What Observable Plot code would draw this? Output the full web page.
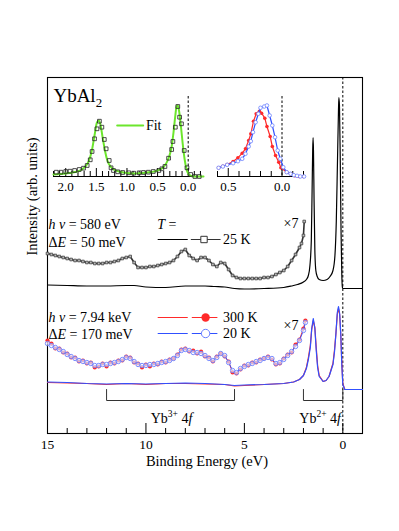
<!DOCTYPE html>
<html><head><meta charset="utf-8">
<script src="https://cdn.jsdelivr.net/npm/d3@7"></script>
<script src="https://cdn.jsdelivr.net/npm/@observablehq/plot@0.6"></script>
<style>
body{margin:0;background:#fff;}
#wrap{position:relative;width:399px;height:531px;}
#wrap svg{position:absolute;overflow:visible;}
#wrap svg text{font-family:"Liberation Serif","Times New Roman",serif;}
</style></head><body><div id="wrap"></div>
<script>
// ---------- DATA (binding energy in eV, intensity in arb. units) ----------
// top panel, hv = 580 eV, T = 25 K : raw spectrum (offset)
const soft25K = [[15,148.5],[14,148],[13,147.5],[12,147.5],[11,148],[10.6,148],[10,146.5],[9,146],[8,147.5],[7,147.5],[6.5,147],[6,146.5],[5.5,145],[5,144.5],[4,145],[3,146],[2.6,147.5],[2.3,149],[2.0,151.5],[1.85,154],[1.75,158],[1.67,168],[1.6,193],[1.56,243],[1.53,283],[1.51,296],[1.49,283],[1.46,233],[1.42,183],[1.37,163],[1.3,157],[1.2,154],[1.0,153],[0.8,154],[0.65,157],[0.5,163],[0.4,178],[0.33,213],[0.27,273],[0.22,323],[0.2,336],[0.17,328],[0.13,273],[0.09,203],[0.05,158],[0.02,146],[0,145],[-1,145]];
// top panel x7 magnified
const soft25Kx7 = [[15.0,180],[14.8,179],[14.6,178],[14.4,177],[14.2,176],[14.0,175],[13.8,174],[13.6,173],[13.4,173],[13.2,172],[13.0,171],[12.8,171],[12.6,170],[12.4,170],[12.2,170],[12.0,171],[11.8,171],[11.6,172],[11.4,173],[11.2,175],[11.0,176],[10.8,177],[10.6,171],[10.4,166],[10.2,166],[10.0,166],[9.8,167],[9.6,167],[9.4,168],[9.2,169],[9.0,170],[8.8,171],[8.6,173],[8.4,177],[8.2,182],[8.0,184],[7.8,178],[7.6,175],[7.4,173],[7.2,176],[7.0,176],[6.8,173],[6.6,169],[6.4,167],[6.2,171],[6.0,170],[5.8,164],[5.6,158],[5.4,156],[5.2,155],[5.0,155],[4.8,155],[4.6,155],[4.4,155],[4.2,155],[4.0,156],[3.8,156],[3.6,157],[3.4,159],[3.2,161],[3.0,163],[2.8,167],[2.6,173],[2.4,179],[2.2,186],[2.1,190],[2.0,198],[1.96,212]];
// bottom panel, hv = 7.94 keV
const hard300K = [[15,51],[14,50.5],[13,50],[12,49],[11,50],[10,49],[9,50],[8,50],[7,49.5],[6,49],[5.5,47.5],[5,48],[4,49],[3,50],[2.5,51.5],[2.2,54],[2.0,58],[1.85,66],[1.75,76],[1.65,88],[1.58,104],[1.5,113],[1.42,106],[1.35,86],[1.28,68],[1.2,58],[1.0,52],[0.85,53],[0.7,57],[0.55,67],[0.5,70],[0.42,84],[0.35,100],[0.28,119],[0.22,125],[0.16,119],[0.1,97],[0.05,70],[0,50],[-0.1,44],[-1,44]];
const hard20K = [[15,51.5],[14,51],[13,50],[12,49.5],[11,50],[10,49.5],[9,50],[8,50.5],[7,50],[6,49],[5.5,48],[5,48.5],[4,49],[3,50],[2.5,51.5],[2.2,54],[2.0,58],[1.85,65],[1.75,74],[1.65,86],[1.58,105],[1.5,115],[1.42,105],[1.35,83],[1.28,66],[1.2,57],[1.0,52],[0.85,53],[0.7,57],[0.55,66],[0.5,69],[0.42,82],[0.35,100],[0.28,121],[0.22,127],[0.16,120],[0.1,98],[0.05,68],[0,49],[-0.1,44],[-1,44]];
const hard300Kx7 = [[15.0,93],[14.8,90],[14.6,85],[14.4,85],[14.2,81],[14.0,80],[13.8,76],[13.6,76],[13.4,72],[13.2,73],[13.0,70],[12.8,71],[12.6,66],[12.4,67],[12.2,70],[12.0,67],[11.8,71],[11.6,70],[11.4,73],[11.2,73],[11.0,77],[10.8,76],[10.6,71],[10.4,70],[10.2,66],[10.0,69],[9.8,67],[9.6,70],[9.4,69],[9.2,72],[9.0,71],[8.8,74],[8.6,75],[8.4,79],[8.2,84],[8.0,85],[7.8,82],[7.6,83],[7.4,80],[7.2,82],[7.0,77],[6.8,76],[6.6,72],[6.4,77],[6.2,80],[6.0,77],[5.8,72],[5.6,61],[5.4,60],[5.2,64],[5.0,68],[4.8,68],[4.6,71],[4.4,71],[4.2,74],[4.0,75],[3.8,77],[3.6,74],[3.4,69],[3.2,70],[3.0,75],[2.8,79],[2.6,81],[2.4,89],[2.2,94],[2.0,105],[1.9,113]];
const hard20Kx7 = [[15.0,90],[14.8,88],[14.6,86],[14.4,84],[14.2,82],[14.0,79],[13.8,77],[13.6,75],[13.4,73],[13.2,72],[13.0,71],[12.8,70],[12.6,68],[12.4,68],[12.2,69],[12.0,69],[11.8,70],[11.6,71],[11.4,72],[11.2,74],[11.0,76],[10.8,75],[10.6,72],[10.4,69],[10.2,68],[10.0,68],[9.8,69],[9.6,69],[9.4,70],[9.2,71],[9.0,72],[8.8,73],[8.6,75],[8.4,78],[8.2,83],[8.0,84],[7.8,83],[7.6,81],[7.4,81],[7.2,80],[7.0,78],[6.8,75],[6.6,73],[6.4,76],[6.2,80],[6.0,78],[5.8,71],[5.6,63],[5.4,61],[5.2,65],[5.0,67],[4.8,69],[4.6,70],[4.4,72],[4.2,73],[4.0,75],[3.8,76],[3.6,75],[3.4,70],[3.2,71],[3.0,74],[2.8,78],[2.6,82],[2.4,87],[2.2,93],[2.0,103],[1.9,111]];
// left inset: 580 eV data and fit near E_F
const insetSoftData = [[2.155,4.3],[2.08,4.3],[2.0,5],[1.93,5.3],[1.855,6],[1.78,7],[1.71,8.3],[1.65,11],[1.6,16.7],[1.57,25],[1.53,37.7],[1.49,47.7],[1.45,55.3],[1.41,49.3],[1.37,37],[1.34,27.7],[1.29,16],[1.26,8.7],[1.22,6],[1.15,4.7],[1.07,4],[0.97,3.7],[0.89,3.3],[0.80,3.7],[0.73,4],[0.65,4.3],[0.57,5],[0.48,6],[0.43,7.7],[0.38,10],[0.32,18.3],[0.27,27],[0.25,35],[0.21,49.3],[0.17,70],[0.14,59.3],[0.11,52.7],[0.065,26],[0.02,8.7],[-0.04,2],[-0.11,0],[-0.18,0]];
const insetSoftFit = [[2.2,2],[2.0,3],[1.85,4.5],[1.75,6.5],[1.68,10],[1.62,16],[1.57,27],[1.53,41],[1.49,54],[1.46,56],[1.43,51],[1.4,40],[1.36,26],[1.32,16],[1.27,10],[1.2,6.5],[1.1,4.5],[1.0,3.5],[0.9,3],[0.8,3.2],[0.7,3.7],[0.6,4.5],[0.5,6],[0.42,8.5],[0.36,13],[0.31,20],[0.27,30],[0.24,44],[0.21,61],[0.19,70],[0.17,71],[0.15,66],[0.12,51],[0.09,33],[0.06,18],[0.03,8],[0.0,3],[-0.05,0.5],[-0.1,0],[-0.25,0]];
// right inset: 7.94 keV near E_F
const insetHard20K = [[0.59,8.7],[0.55,10],[0.51,11.7],[0.455,13.3],[0.41,15.3],[0.37,17.7],[0.34,22.7],[0.31,30],[0.29,35.3],[0.27,44.3],[0.245,54.3],[0.22,62.7],[0.2,68.7],[0.165,70],[0.14,71],[0.115,61],[0.09,51],[0.065,39.3],[0.04,26],[0.016,17.7],[-0.012,9.3],[-0.044,4.3],[-0.08,2.7],[-0.11,1.3],[-0.14,0.7],[-0.17,0],[-0.205,0]];
const insetHard300K = [[0.59,8.7],[0.55,10.3],[0.51,12],[0.455,15],[0.41,18.7],[0.37,23.3],[0.34,27.7],[0.31,36],[0.29,42.7],[0.265,55.3],[0.24,62.7],[0.21,65.3],[0.19,63.3],[0.16,58.3],[0.14,50],[0.11,40],[0.09,30],[0.06,21],[0.03,14.3],[0.01,8.7],[-0.044,4.3],[-0.08,2.7],[-0.12,0.7],[-0.16,0],[-0.2,0]];
// tick labels and annotations
const mainTickLabels = [15, 10, 5, 0];
const leftInsetTickLabels = [2.0, 1.5, 1.0, 0.5, 0.0];
const rightInsetTickLabels = [0.5, 0.0];
const bracketRanges = [[12, 5.5], [2.0, 0]];
const bracketLabels = ["Yb^3+^ 4*f*", "Yb^2+^ 4*f*"];
const seriesLabels = ["25 K", "300 K", "20 K"];

// ---------- STYLE ----------
const FONT = '"Liberation Serif","Times New Roman",serif';
const RED = "#ff2a2a", BLUE = "#3050ff", BLUEPT = "#6a80ff", GREEN = "#6ce62c";
const X = d => d[0], Y = d => d[1];

const wrap = document.getElementById("wrap");
function place(svg, left, top) {
  svg.style.left = left + "px"; svg.style.top = top + "px";
  svg.style.background = "transparent";
  wrap.appendChild(svg);
  rich(svg);
}
function rich(svg) {
  svg.querySelectorAll("text").forEach(t => {
    const leaves = t.querySelectorAll("tspan").length ? [...t.querySelectorAll("tspan")] : [t];
    leaves.forEach(n => {
      const s = n.textContent;
      if (!/[*^_]/.test(s)) return;
      const fs = parseFloat(getComputedStyle(n).fontSize) || 13;
      n.textContent = "";
      let shift = 0;
      s.split(/(\*[^*]+\*|\^[^^]+\^|_[^_]+_)/).forEach(part => {
        if (!part) return;
        const sp = document.createElementNS("http://www.w3.org/2000/svg", "tspan");
        let txt = part, dy = 0;
        if (part[0] === "*") { txt = part.slice(1, -1); sp.setAttribute("font-style", "italic"); }
        else if (part[0] === "^") { txt = part.slice(1, -1); sp.setAttribute("font-size", fs * 0.68); dy = -0.42 * fs; }
        else if (part[0] === "_") { txt = part.slice(1, -1); sp.setAttribute("font-size", fs * 0.68); dy = 0.3 * fs; }
        const d = dy - shift; if (d) sp.setAttribute("dy", d); shift = dy;
        sp.textContent = txt; n.appendChild(sp);
      });
    });
  });
}

// ---------- MAIN PLOT ----------
const minorMain = d3.range(-1, 16).filter(v => v % 5 !== 0);
const majorMain = [15, 10, 5, 0];
const legLow = 33, legHigh = 44;
const bracketPts = bracketRanges.flatMap((r, i) => [[r[0], legHigh, i], [r[0], legLow, i], [r[1], legLow, i], [r[1], legHigh, i]]);

const main = Plot.plot({
  width: 399, height: 531,
  marginTop: 77, marginRight: 37, marginBottom: 98, marginLeft: 47,
  x: {domain: [15, -1], axis: null},
  y: {domain: [0, 356], axis: null},
  style: {fontFamily: FONT, fontSize: "13.5px", background: "transparent", color: "black"},
  marks: [
    Plot.frame({stroke: "black", strokeWidth: 1.1}),
    Plot.ruleX([0], {stroke: "black", strokeDasharray: "2.5,2", strokeWidth: 1}),
    Plot.tickX(minorMain, {x: d => d, insetTop: 351, stroke: "black"}),
    Plot.tickX(majorMain, {x: d => d, insetTop: 346, stroke: "black"}),
    Plot.axisX(mainTickLabels, {tickSize: 0, tickPadding: 6, label: null, fontSize: 13.5, tickFormat: d3.format("d")}),
    // brackets
    Plot.line(bracketPts, {x: X, y: Y, z: d => d[2], stroke: "#333", strokeWidth: 1}),
    Plot.text(bracketLabels, {x: [8.7, 1.15], y: [15, 15], text: d => d, fontSize: 14, lineAnchor: "middle"}),
    // bottom panel (7.94 keV)
    Plot.line(hard300K, {x: X, y: Y, stroke: RED, strokeWidth: 1.2}),
    Plot.line(hard20K, {x: X, y: Y, stroke: BLUE, strokeWidth: 1.2}),
    Plot.line(hard300Kx7, {x: X, y: Y, stroke: RED, strokeWidth: 1}),
    Plot.dot(hard300Kx7, {x: X, y: Y, r: 2.1, fill: RED, stroke: "none"}),
    Plot.line(hard20Kx7, {x: X, y: Y, stroke: BLUE, strokeWidth: 0.9}),
    Plot.dot(hard20Kx7, {x: X, y: Y, r: 2.2, fill: "white", fillOpacity: 0.6, stroke: BLUEPT, strokeWidth: 0.9}),
    // top panel (580 eV)
    Plot.line(soft25K, {x: X, y: Y, stroke: "black", strokeWidth: 1.2, curve: "monotone-x"}),
    Plot.line(soft25Kx7, {x: X, y: Y, stroke: "#333", strokeWidth: 1.6}),
    Plot.dot(soft25Kx7, {x: X, y: Y, symbol: "square", r: 1.5, fill: "#bbb", stroke: "#444", strokeWidth: 0.8}),
    // title
    Plot.text(["YbAl_2_"], {x: 14.7, y: 338, text: d => d, fontSize: 19, textAnchor: "start", lineAnchor: "middle"}),
    // top legend
    Plot.text(["*h ν* = 580 eV", "Δ*E* = 50 meV"], {x: 14.95, y: [209, 191], text: d => d, fontSize: 14, textAnchor: "start", lineAnchor: "middle"}),
    Plot.text(["*T* ="], {x: 9.43, y: 209, text: d => d, fontSize: 14, textAnchor: "start", lineAnchor: "middle"}),
    Plot.line([[9.38, 194], [7.9, 194]], {x: X, y: Y, stroke: "black", strokeWidth: 1.2}),
    Plot.line([[7.7, 194], [6.23, 194]], {x: X, y: Y, stroke: "#333", strokeWidth: 1}),
    Plot.dot([[7.05, 194]], {x: X, y: Y, symbol: "square", r: 3.6, fill: "white", stroke: "#333", strokeWidth: 1}),
    Plot.text([seriesLabels[0]], {x: 6.08, y: 194, text: d => d, fontSize: 14, textAnchor: "start", lineAnchor: "middle"}),
    Plot.text(["×7"], {x: 2.25, y: 210, text: d => d, fontSize: 14, textAnchor: "end", lineAnchor: "middle"}),
    // bottom legend
    Plot.text(["*h ν* = 7.94 keV", "Δ*E* = 170 meV"], {x: 14.95, y: [116, 99], text: d => d, fontSize: 14, textAnchor: "start", lineAnchor: "middle"}),
    Plot.line([[9.38, 116], [7.9, 116]], {x: X, y: Y, stroke: RED, strokeWidth: 1.2}),
    Plot.line([[7.65, 116], [6.39, 116]], {x: X, y: Y, stroke: RED, strokeWidth: 1}),
    Plot.dot([[6.97, 116]], {x: X, y: Y, r: 4.2, fill: RED, stroke: "none"}),
    Plot.line([[9.38, 100], [7.9, 100]], {x: X, y: Y, stroke: BLUE, strokeWidth: 1.2}),
    Plot.line([[7.65, 100], [6.39, 100]], {x: X, y: Y, stroke: BLUE, strokeWidth: 1}),
    Plot.dot([[6.97, 100]], {x: X, y: Y, r: 4.2, fill: "white", stroke: BLUEPT, strokeWidth: 1}),
    Plot.text(seriesLabels.slice(1), {x: 6.08, y: [116, 100], text: d => d, fontSize: 14, textAnchor: "start", lineAnchor: "middle"}),
    Plot.text(["×7"], {x: 2.25, y: 108, text: d => d, fontSize: 14, textAnchor: "end", lineAnchor: "middle"}),
    // axis titles
    Plot.text(["Intensity (arb. units)"], {frameAnchor: "left", dx: -15, rotate: -90, text: d => d, fontSize: 14.5}),
    Plot.text(["Binding Energy (eV)"], {frameAnchor: "bottom", dx: 2, dy: 32, text: d => d, fontSize: 14.5})
  ]
});
place(main, 0, 0);

// ---------- LEFT INSET ----------
const leftTicks = d3.range(-2, 23).map(i => i / 10);
const leftInset = Plot.plot({
  width: 170, height: 110,
  marginTop: 6, marginBottom: 24, marginLeft: 13, marginRight: 7,
  x: {domain: [2.2, -0.25], axis: null},
  y: {domain: [0, 80], axis: null},
  style: {fontFamily: FONT, fontSize: "13px", background: "transparent", color: "black"},
  marks: [
    Plot.ruleY([0], {stroke: "black"}),
    Plot.ruleX([0], {stroke: "black", strokeDasharray: "2.5,2"}),
    Plot.tickX(leftTicks.filter(v => Math.round(v * 10) % 5 !== 0), {x: d => d, insetTop: 75, stroke: "black"}),
    Plot.tickX(leftTicks.filter(v => Math.round(v * 10) % 5 === 0), {x: d => d, insetTop: 72, stroke: "black"}),
    Plot.axisX(leftInsetTickLabels, {tickSize: 0, tickPadding: 5, label: null, fontSize: 13, tickFormat: d3.format(".1f")}),
    Plot.line(insetSoftFit, {x: X, y: Y, stroke: GREEN, strokeWidth: 2, curve: "monotone-x"}),
    Plot.dot(insetSoftData, {x: X, y: Y, symbol: "square", r: 2.1, fill: "none", stroke: "#222", strokeWidth: 0.8}),
    Plot.line([[1.16, 51], [0.735, 51]], {x: X, y: Y, stroke: GREEN, strokeWidth: 2}),
    Plot.text(["Fit"], {x: 0.69, y: 51, text: d => d, fontSize: 14, textAnchor: "start", lineAnchor: "middle"})
  ]
});
place(leftInset, 40, 90);

// ---------- RIGHT INSET ----------
const rightTicks = d3.range(-2, 7).map(i => i / 10);
const rightInset = Plot.plot({
  width: 110, height: 110,
  marginTop: 6, marginBottom: 24, marginLeft: 12, marginRight: 12,
  x: {domain: [0.6, -0.2], axis: null},
  y: {domain: [0, 80], axis: null},
  style: {fontFamily: FONT, fontSize: "13px", background: "transparent", color: "black"},
  marks: [
    Plot.ruleY([0], {stroke: "black"}),
    Plot.ruleX([0], {stroke: "black", strokeDasharray: "2.5,2"}),
    Plot.tickX(rightTicks.filter(v => Math.round(v * 10) % 5 !== 0), {x: d => d, insetTop: 75, stroke: "black"}),
    Plot.tickX(rightTicks.filter(v => Math.round(v * 10) % 5 === 0), {x: d => d, insetTop: 72, stroke: "black"}),
    Plot.axisX(rightInsetTickLabels, {tickSize: 0, tickPadding: 5, label: null, fontSize: 13, tickFormat: d3.format(".1f")}),
    Plot.line(insetHard300K, {x: X, y: Y, stroke: RED, strokeWidth: 1.2}),
    Plot.dot(insetHard300K, {x: X, y: Y, r: 1.8, fill: RED, stroke: "none"}),
    Plot.line(insetHard20K, {x: X, y: Y, stroke: BLUE, strokeWidth: 1.2}),
    Plot.dot(insetHard20K, {x: X, y: Y, r: 1.8, fill: "white", stroke: BLUEPT, strokeWidth: 0.8})
  ]
});
place(rightInset, 205, 90);
</script></body></html>
